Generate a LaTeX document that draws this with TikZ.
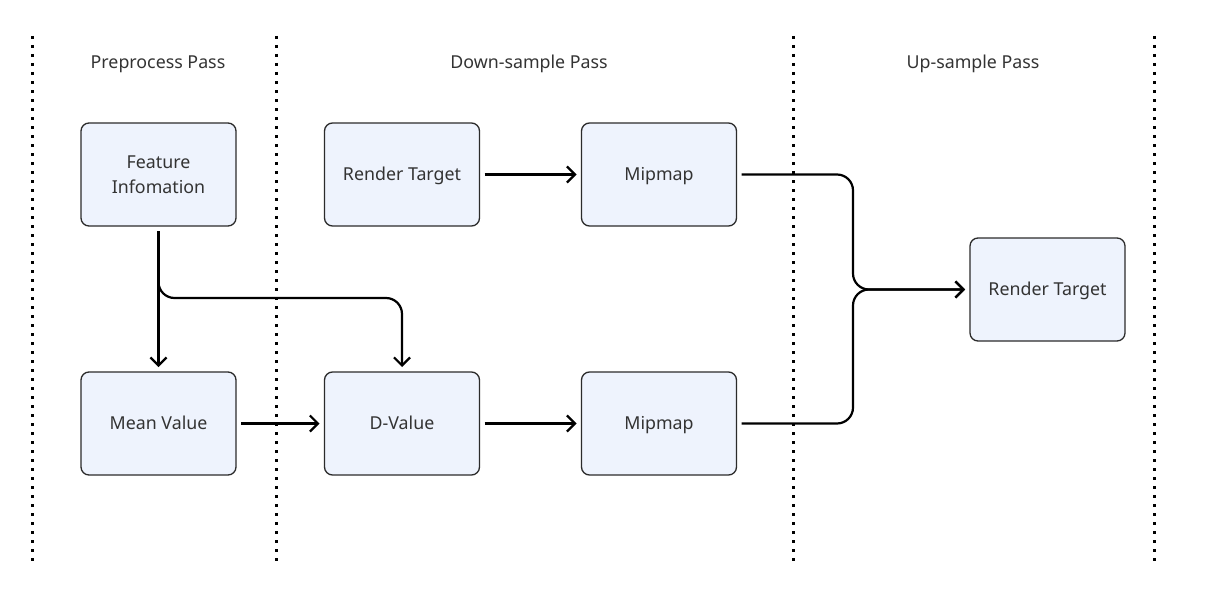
\documentclass[tikz,border=0pt]{standalone}
\usepackage{fontspec}
\setmainfont{Noto Sans}
\usetikzlibrary{arrows.meta,calc}
\definecolor{boxfill}{HTML}{EEF3FD}
\definecolor{boxline}{HTML}{2B2B2B}
\definecolor{txt}{HTML}{333333}
\tikzset{
  stagebox/.style={draw=boxline, line width=1.3pt, fill=boxfill, rounded corners=8pt,
    minimum width=155pt, minimum height=103pt, align=center, text=txt,
    font=\fontsize{17.8}{25}\selectfont, outer sep=5pt},
  oneline/.style={text height=16.7pt, text depth=4pt},
  header/.style={text=txt, font=\fontsize{17.8}{25}\selectfont},
  flow/.style={line width=2.2pt, -{Straight Barb[length=8pt,width=16pt,line width=2.2pt]}},
  sepline/.style={line width=3pt, dash pattern=on 3pt off 6pt, black},
}
\begin{document}
\begin{tikzpicture}[x=1pt,y=-1pt]
\useasboundingbox (0,0) rectangle (1215,602);
% separators
\foreach \xx in {32,276,793,1154} {
  \coordinate (s\xx a) at (\xx,36);
  \coordinate (s\xx b) at (\xx,566);
  \draw[sepline] (s\xx a) -- (s\xx b);
}
% headers
\node[header] (h1) at (158,64) {Preprocess Pass};
\node[header] (h2) at (529,64) {Down-sample Pass};
\node[header] (h3) at (973,64) {Up-sample Pass};
% boxes
\node[stagebox] (feat) at (158.5,174.5) {Feature\\Infomation};
\node[stagebox, oneline] (rt1) at (402,174.5) {Render Target};
\node[stagebox, oneline] (mip1) at (659,174.5) {Mipmap};
\node[stagebox, oneline] (mean) at (158.5,423.5) {Mean Value};
\node[stagebox, oneline] (dval) at (402,423.5) {D-Value};
\node[stagebox, oneline] (mip2) at (659,423.5) {Mipmap};
\node[stagebox, oneline] (rt2) at (1047.5,289.5) {Render Target};
% connectors
\draw[flow] (feat) -- (mean);
\draw[flow, rounded corners=16pt] (feat.south) |- ($(dval.north)+(0,-69)$) -- (dval.north);
\draw[flow] (mean) -- (dval);
\draw[flow] (dval) -- (mip2);
\draw[flow] (rt1) -- (mip1);
\coordinate (merge) at (853,289.5);
\draw[flow, rounded corners=16pt] (mip1.east) -| (merge) -- (rt2.west);
\draw[flow, rounded corners=16pt] (mip2.east) -| (merge) -- (rt2.west);
\end{tikzpicture}
\end{document}
